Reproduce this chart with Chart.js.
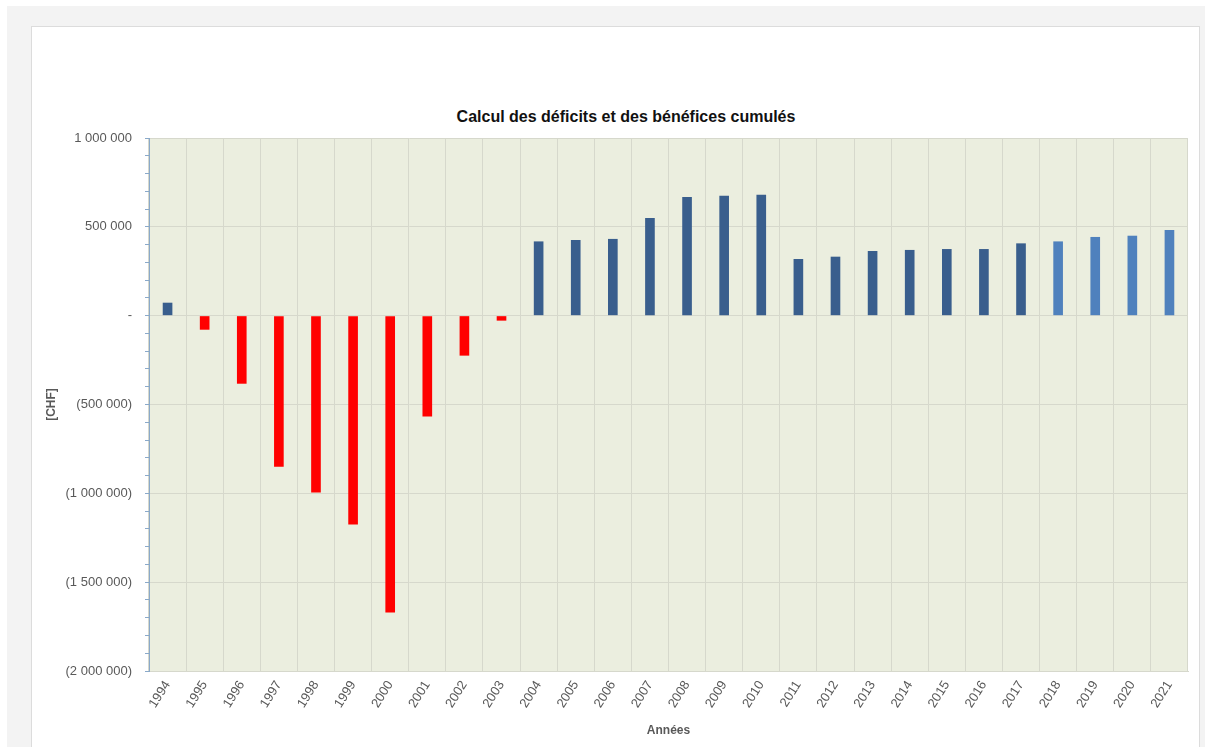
<!DOCTYPE html>
<html lang="fr">
<head>
<meta charset="utf-8">
<script src="https://cdn.jsdelivr.net/npm/chart.js@4/dist/chart.umd.min.js"></script>
<style>
  html, body { margin: 0; padding: 0; background: #fff; }
  #outer { position: absolute; left: 7px; top: 6px; width: 1198px; height: 741px; background: #f3f3f3; }
  #panel { position: absolute; left: 31px; top: 26px; width: 1167px; height: 730px; background: #fff; border: 1px solid #dcdcdc; }
  #title { position: absolute; left: 626px; top: 108px; transform: translateX(-50%); white-space: nowrap;
           font: bold 16px "Liberation Sans", Arial, sans-serif; color: #111; }
  #wrap { position: absolute; left: 32px; top: 27px; width: 1167px; height: 720px; }
</style>
</head>
<body>
<div id="outer"></div>
<div id="panel"></div>
<div id="title">Calcul des déficits et des bénéfices cumulés</div>
<div id="wrap"><canvas id="chart"></canvas></div>
<script>
const years = ['1994','1995','1996','1997','1998','1999','2000','2001','2002','2003','2004','2005','2006','2007',
  '2008','2009','2010','2011','2012','2013','2014','2015','2016','2017','2018','2019','2020','2021'];
const cumul = [73000, -79000, -383000, -850000, -996000, -1176000, -1671000, -568000, -225000, -28000,
  418000, 426000, 432000, 550000, 668000, 675000, 681000, 319000, 332000, 364000, 370000, 375000, 375000,
  407000, 418000, 443000, 450000, 482000];
const forecastFrom = '2018';
const yTicks = [1000000, 500000, 0, -500000, -1000000, -1500000, -2000000];

const fmt = v => {
  if (v === 0) return '-';
  const s = Math.abs(v).toString().replace(/\B(?=(\d{3})+(?!\d))/g, ' ');
  return v < 0 ? '(' + s + ')' : s;
};

// fond de la zone de tracé
const plotBg = {
  id: 'plotBg',
  beforeDraw(chart) {
    const { ctx, chartArea: a } = chart;
    ctx.save();
    ctx.fillStyle = '#ebeedf';
    ctx.fillRect(a.left, a.top, a.right - a.left, a.bottom - a.top);
    ctx.restore();
  }
};

new Chart(document.getElementById('chart'), {
  type: 'bar',
  data: {
    labels: years,
    datasets: [{
      data: cumul,
      backgroundColor: ctx => {
        const v = cumul[ctx.dataIndex];
        if (v < 0) return '#ff0000';
        return years[ctx.dataIndex] >= forecastFrom ? '#4f81bd' : '#395e8d';
      },
      barPercentage: 0.26,
      categoryPercentage: 1
    }]
  },
  options: {
    responsive: true,
    maintainAspectRatio: false,
    animation: false,
    layout: { padding: { left: 0, right: 11, top: 111, bottom: 0 } },
    plugins: { legend: { display: false }, tooltip: { enabled: false } },
    scales: {
      x: {
        afterFit: s => { s.height = 76; },
        grid: { color: '#d6d8cc', drawTicks: false, offset: true },
        border: { color: '#d6d8cc' },
        ticks: {
          color: '#595959', font: { family: 'Liberation Sans', size: 13 },
          minRotation: 58, maxRotation: 58, padding: 7, autoSkip: false
        },
        title: {
          display: true, text: 'Années', color: '#595959',
          font: { family: 'Liberation Sans', size: 12, weight: 'bold' },
          padding: { top: 0, bottom: 9 }
        }
      },
      y: {
        min: -2000000,
        max: 1000000,
        afterFit: s => { s.width = 117; },
        grid: {
          color: ctx => yTicks.includes(ctx.tick.value) ? '#d6d8cc' : 'transparent',
          tickColor: '#8aa9c9',
          tickLength: 4
        },
        border: { color: '#8aa9c9' },
        ticks: {
          stepSize: 100000,
          autoSkip: false,
          padding: 13,
          color: '#595959',
          font: { family: 'Liberation Sans', size: 13 },
          callback: v => yTicks.includes(v) ? fmt(v) : ''
        },
        title: {
          display: true, text: '[CHF]', color: '#595959',
          font: { family: 'Liberation Sans', size: 12, weight: 'bold' },
          padding: { top: 12, bottom: 0 }
        }
      }
    }
  },
  plugins: [plotBg]
});
</script>
</body>
</html>
